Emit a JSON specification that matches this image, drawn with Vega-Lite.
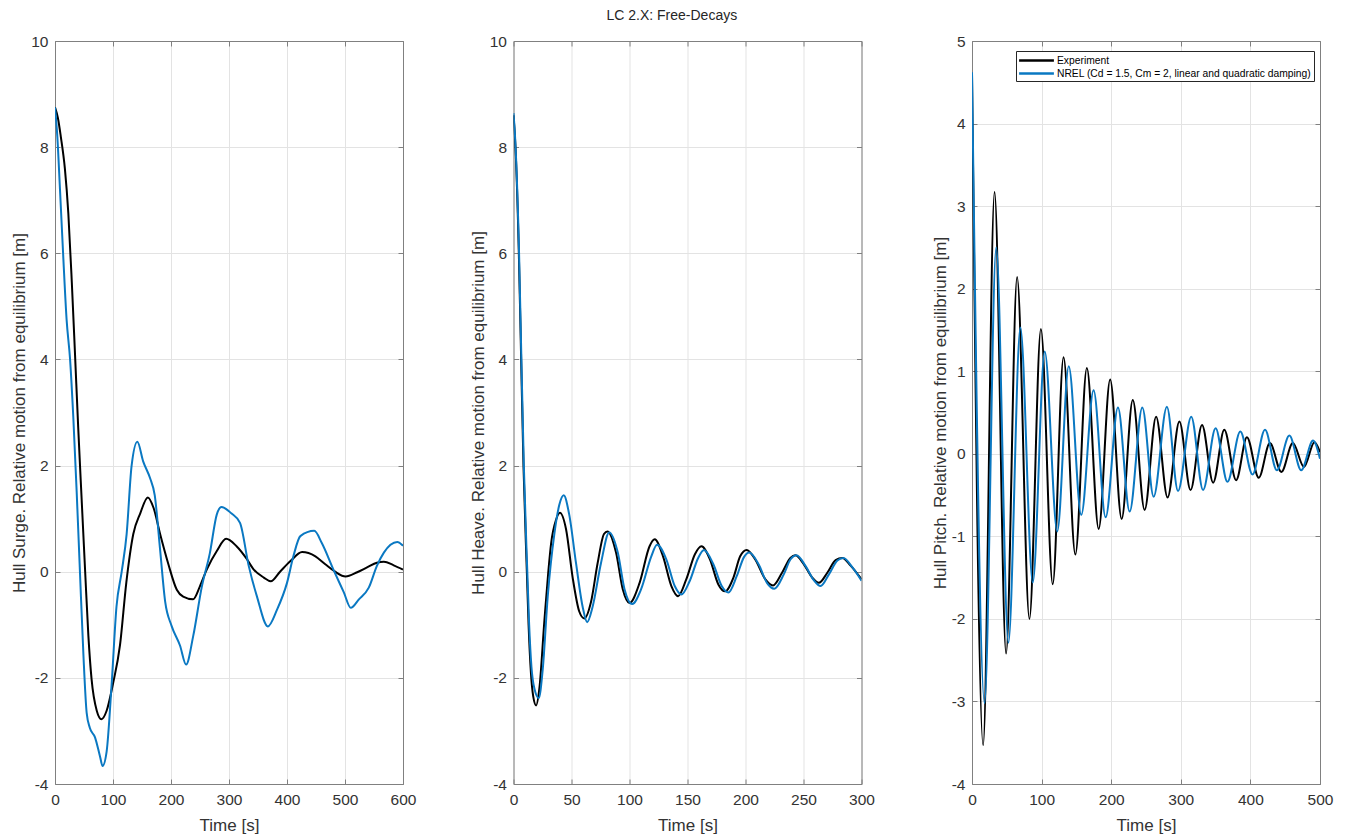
{
  "$schema": "https://vega.github.io/schema/vega-lite/v6.json",
  "background": "white",
  "padding": {"left": 10, "top": 9, "right": 31, "bottom": 20},
  "title": {"text": "LC 2.X: Free-Decays", "fontSize": 14, "font": "Liberation Sans", "fontWeight": "normal", "color": "#262626", "anchor": "middle", "offset": 11},
  "config": {
    "font": "Liberation Sans",
    "view": {"stroke": null},
    "axis": {
      "domainColor": "#808080", "domainWidth": 1, "tickColor": "#808080", "tickSize": -5, "tickWidth": 1,
      "labelColor": "#333333", "labelFontSize": 15.5, "labelFont": "Liberation Sans",
      "titleColor": "#333333", "titleFontSize": 17, "titleFontWeight": "normal", "titleFont": "Liberation Sans",
      "gridColor": "#e3e3e3", "gridWidth": 1, "labelFlush": false, "labelOverlap": false, "labelExpr": "'' + datum.value"
    },
    "axisX": {"titlePadding": 10, "labelPadding": 13},
    "axisY": {"titlePadding": 2, "labelPadding": 12}
  },
  "spacing": 110.5,
  "bounds": "flush",
  "resolve": {"scale": {"x": "independent", "y": "independent", "color": "independent"}},
  "datasets": {
    "surge": [
      {"s": "Experiment", "t": 0, "y": 8.75}, {"s": "Experiment", "t": 5, "y": 8.55}, {"s": "Experiment", "t": 10, "y": 8.2}, {"s": "Experiment", "t": 17, "y": 7.6}, {"s": "Experiment", "t": 23, "y": 6.75}, {"s": "Experiment", "t": 29, "y": 5.45}, {"s": "Experiment", "t": 34.5, "y": 4.1}, {"s": "Experiment", "t": 40, "y": 2.72}, {"s": "Experiment", "t": 46, "y": 1.35}, {"s": "Experiment", "t": 52, "y": 0.0}, {"s": "Experiment", "t": 57.5, "y": -1.2}, {"s": "Experiment", "t": 63, "y": -2.02}, {"s": "Experiment", "t": 72, "y": -2.62}, {"s": "Experiment", "t": 80, "y": -2.78}, {"s": "Experiment", "t": 89, "y": -2.62}, {"s": "Experiment", "t": 100, "y": -2.11}, {"s": "Experiment", "t": 112, "y": -1.39}, {"s": "Experiment", "t": 123, "y": -0.2}, {"s": "Experiment", "t": 135, "y": 0.71}, {"s": "Experiment", "t": 147, "y": 1.1}, {"s": "Experiment", "t": 160, "y": 1.4}, {"s": "Experiment", "t": 170, "y": 1.2}, {"s": "Experiment", "t": 181, "y": 0.72}, {"s": "Experiment", "t": 195, "y": 0.16}, {"s": "Experiment", "t": 210, "y": -0.34}, {"s": "Experiment", "t": 221, "y": -0.47}, {"s": "Experiment", "t": 238, "y": -0.52}, {"s": "Experiment", "t": 250, "y": -0.27}, {"s": "Experiment", "t": 262, "y": 0.05}, {"s": "Experiment", "t": 279, "y": 0.39}, {"s": "Experiment", "t": 295, "y": 0.62}, {"s": "Experiment", "t": 313, "y": 0.48}, {"s": "Experiment", "t": 330, "y": 0.25}, {"s": "Experiment", "t": 342, "y": 0.05}, {"s": "Experiment", "t": 360, "y": -0.11}, {"s": "Experiment", "t": 372, "y": -0.18}, {"s": "Experiment", "t": 388, "y": 0.0}, {"s": "Experiment", "t": 406, "y": 0.2}, {"s": "Experiment", "t": 426, "y": 0.37}, {"s": "Experiment", "t": 449, "y": 0.29}, {"s": "Experiment", "t": 466, "y": 0.14}, {"s": "Experiment", "t": 483, "y": 0.0}, {"s": "Experiment", "t": 501, "y": -0.09}, {"s": "Experiment", "t": 521, "y": -0.01}, {"s": "Experiment", "t": 538, "y": 0.08}, {"s": "Experiment", "t": 555, "y": 0.17}, {"s": "Experiment", "t": 567, "y": 0.19}, {"s": "Experiment", "t": 584, "y": 0.12}, {"s": "Experiment", "t": 600, "y": 0.04},
      {"s": "NREL", "t": 0, "y": 8.75}, {"s": "NREL", "t": 4, "y": 8.2}, {"s": "NREL", "t": 8.6, "y": 7.2}, {"s": "NREL", "t": 14.4, "y": 5.9}, {"s": "NREL", "t": 20, "y": 4.75}, {"s": "NREL", "t": 26, "y": 4.0}, {"s": "NREL", "t": 31.6, "y": 2.9}, {"s": "NREL", "t": 37.4, "y": 1.5}, {"s": "NREL", "t": 43, "y": 0.0}, {"s": "NREL", "t": 49, "y": -1.57}, {"s": "NREL", "t": 54.6, "y": -2.66}, {"s": "NREL", "t": 60, "y": -2.94}, {"s": "NREL", "t": 69, "y": -3.12}, {"s": "NREL", "t": 77.6, "y": -3.48}, {"s": "NREL", "t": 82, "y": -3.66}, {"s": "NREL", "t": 89, "y": -3.39}, {"s": "NREL", "t": 97.7, "y": -2.11}, {"s": "NREL", "t": 106, "y": -0.66}, {"s": "NREL", "t": 115, "y": 0.0}, {"s": "NREL", "t": 123.5, "y": 0.71}, {"s": "NREL", "t": 132, "y": 1.99}, {"s": "NREL", "t": 142, "y": 2.45}, {"s": "NREL", "t": 152, "y": 2.08}, {"s": "NREL", "t": 164, "y": 1.76}, {"s": "NREL", "t": 172, "y": 1.44}, {"s": "NREL", "t": 181, "y": 0.44}, {"s": "NREL", "t": 190, "y": -0.57}, {"s": "NREL", "t": 201, "y": -1.02}, {"s": "NREL", "t": 215.5, "y": -1.39}, {"s": "NREL", "t": 226, "y": -1.75}, {"s": "NREL", "t": 238.5, "y": -1.2}, {"s": "NREL", "t": 253, "y": -0.29}, {"s": "NREL", "t": 267, "y": 0.35}, {"s": "NREL", "t": 279, "y": 1.08}, {"s": "NREL", "t": 287, "y": 1.22}, {"s": "NREL", "t": 304, "y": 1.1}, {"s": "NREL", "t": 319, "y": 0.92}, {"s": "NREL", "t": 334, "y": 0.11}, {"s": "NREL", "t": 348, "y": -0.46}, {"s": "NREL", "t": 367, "y": -1.03}, {"s": "NREL", "t": 383, "y": -0.71}, {"s": "NREL", "t": 400, "y": -0.21}, {"s": "NREL", "t": 411, "y": 0.29}, {"s": "NREL", "t": 423, "y": 0.67}, {"s": "NREL", "t": 447, "y": 0.77}, {"s": "NREL", "t": 460, "y": 0.54}, {"s": "NREL", "t": 480, "y": 0.04}, {"s": "NREL", "t": 498, "y": -0.39}, {"s": "NREL", "t": 510, "y": -0.68}, {"s": "NREL", "t": 524, "y": -0.52}, {"s": "NREL", "t": 541, "y": -0.3}, {"s": "NREL", "t": 555, "y": 0.11}, {"s": "NREL", "t": 567, "y": 0.36}, {"s": "NREL", "t": 590, "y": 0.56}, {"s": "NREL", "t": 600, "y": 0.49}
    ],
    "heave": [
      {"s": "Experiment", "t": 0, "y": 8.6}, {"s": "Experiment", "t": 1.7, "y": 8.0}, {"s": "Experiment", "t": 4.6, "y": 6.0}, {"s": "Experiment", "t": 6.6, "y": 4.0}, {"s": "Experiment", "t": 8.6, "y": 2.0}, {"s": "Experiment", "t": 11.5, "y": 0.0}, {"s": "Experiment", "t": 13, "y": -1.0}, {"s": "Experiment", "t": 15, "y": -1.9}, {"s": "Experiment", "t": 17, "y": -2.35}, {"s": "Experiment", "t": 19.5, "y": -2.52}, {"s": "Experiment", "t": 22.3, "y": -2.2}, {"s": "Experiment", "t": 26.6, "y": -0.93}, {"s": "Experiment", "t": 30, "y": 0.0}, {"s": "Experiment", "t": 32.4, "y": 0.53}, {"s": "Experiment", "t": 36.7, "y": 0.98}, {"s": "Experiment", "t": 40, "y": 1.11}, {"s": "Experiment", "t": 45.3, "y": 0.8}, {"s": "Experiment", "t": 51, "y": -0.11}, {"s": "Experiment", "t": 56.7, "y": -0.75}, {"s": "Experiment", "t": 61, "y": -0.88}, {"s": "Experiment", "t": 66.8, "y": -0.57}, {"s": "Experiment", "t": 72.5, "y": 0.16}, {"s": "Experiment", "t": 78, "y": 0.71}, {"s": "Experiment", "t": 81, "y": 0.76}, {"s": "Experiment", "t": 88.4, "y": 0.36}, {"s": "Experiment", "t": 94.2, "y": -0.33}, {"s": "Experiment", "t": 100, "y": -0.59}, {"s": "Experiment", "t": 108.7, "y": -0.21}, {"s": "Experiment", "t": 117.3, "y": 0.48}, {"s": "Experiment", "t": 121.7, "y": 0.61}, {"s": "Experiment", "t": 128.9, "y": 0.29}, {"s": "Experiment", "t": 136.1, "y": -0.27}, {"s": "Experiment", "t": 141.9, "y": -0.46}, {"s": "Experiment", "t": 149, "y": -0.14}, {"s": "Experiment", "t": 156.4, "y": 0.33}, {"s": "Experiment", "t": 162, "y": 0.48}, {"s": "Experiment", "t": 169.4, "y": 0.23}, {"s": "Experiment", "t": 176.6, "y": -0.24}, {"s": "Experiment", "t": 182.4, "y": -0.37}, {"s": "Experiment", "t": 189.6, "y": -0.11}, {"s": "Experiment", "t": 195.4, "y": 0.29}, {"s": "Experiment", "t": 201, "y": 0.41}, {"s": "Experiment", "t": 208.4, "y": 0.23}, {"s": "Experiment", "t": 217, "y": -0.14}, {"s": "Experiment", "t": 223.7, "y": -0.26}, {"s": "Experiment", "t": 231.5, "y": -0.02}, {"s": "Experiment", "t": 238.7, "y": 0.26}, {"s": "Experiment", "t": 243, "y": 0.31}, {"s": "Experiment", "t": 250.3, "y": 0.14}, {"s": "Experiment", "t": 257.5, "y": -0.11}, {"s": "Experiment", "t": 263.3, "y": -0.21}, {"s": "Experiment", "t": 270.5, "y": -0.02}, {"s": "Experiment", "t": 277.7, "y": 0.22}, {"s": "Experiment", "t": 283.5, "y": 0.26}, {"s": "Experiment", "t": 290.8, "y": 0.11}, {"s": "Experiment", "t": 300, "y": -0.14},
      {"s": "NREL", "t": 0, "y": 8.64}, {"s": "NREL", "t": 1.7, "y": 8.05}, {"s": "NREL", "t": 4.8, "y": 6.0}, {"s": "NREL", "t": 6.8, "y": 4.0}, {"s": "NREL", "t": 8.9, "y": 2.0}, {"s": "NREL", "t": 11.9, "y": 0.0}, {"s": "NREL", "t": 13.5, "y": -1.0}, {"s": "NREL", "t": 15.5, "y": -1.8}, {"s": "NREL", "t": 18, "y": -2.2}, {"s": "NREL", "t": 21.8, "y": -2.38}, {"s": "NREL", "t": 25.2, "y": -1.84}, {"s": "NREL", "t": 29.5, "y": -0.47}, {"s": "NREL", "t": 35.2, "y": 0.71}, {"s": "NREL", "t": 39.5, "y": 1.26}, {"s": "NREL", "t": 43.3, "y": 1.44}, {"s": "NREL", "t": 48, "y": 1.08}, {"s": "NREL", "t": 53.9, "y": 0.16}, {"s": "NREL", "t": 59.6, "y": -0.66}, {"s": "NREL", "t": 63.5, "y": -0.95}, {"s": "NREL", "t": 68.2, "y": -0.66}, {"s": "NREL", "t": 75.4, "y": 0.16}, {"s": "NREL", "t": 82.5, "y": 0.74}, {"s": "NREL", "t": 89.9, "y": 0.36}, {"s": "NREL", "t": 95.7, "y": -0.33}, {"s": "NREL", "t": 102.3, "y": -0.61}, {"s": "NREL", "t": 110, "y": -0.33}, {"s": "NREL", "t": 118.8, "y": 0.29}, {"s": "NREL", "t": 123.7, "y": 0.51}, {"s": "NREL", "t": 131.8, "y": 0.23}, {"s": "NREL", "t": 139, "y": -0.27}, {"s": "NREL", "t": 144.8, "y": -0.43}, {"s": "NREL", "t": 152, "y": -0.17}, {"s": "NREL", "t": 159.2, "y": 0.26}, {"s": "NREL", "t": 164.2, "y": 0.41}, {"s": "NREL", "t": 172.3, "y": 0.14}, {"s": "NREL", "t": 179.5, "y": -0.27}, {"s": "NREL", "t": 185.3, "y": -0.39}, {"s": "NREL", "t": 192.5, "y": -0.08}, {"s": "NREL", "t": 198.8, "y": 0.28}, {"s": "NREL", "t": 203.2, "y": 0.36}, {"s": "NREL", "t": 211.3, "y": 0.14}, {"s": "NREL", "t": 218.5, "y": -0.21}, {"s": "NREL", "t": 224.9, "y": -0.32}, {"s": "NREL", "t": 233, "y": -0.05}, {"s": "NREL", "t": 238.7, "y": 0.23}, {"s": "NREL", "t": 244, "y": 0.31}, {"s": "NREL", "t": 251.7, "y": 0.11}, {"s": "NREL", "t": 258.9, "y": -0.16}, {"s": "NREL", "t": 264.7, "y": -0.27}, {"s": "NREL", "t": 271.9, "y": -0.05}, {"s": "NREL", "t": 279.2, "y": 0.21}, {"s": "NREL", "t": 284.4, "y": 0.26}, {"s": "NREL", "t": 292.2, "y": 0.08}, {"s": "NREL", "t": 300, "y": -0.17}
    ],
    "pitch": [
      {"s": "Experiment", "t": 0, "y": 4.6}, {"s": "Experiment", "t": 16, "y": -3.53}, {"s": "Experiment", "t": 32.4, "y": 3.17}, {"s": "Experiment", "t": 49, "y": -2.42}, {"s": "Experiment", "t": 64.8, "y": 2.14}, {"s": "Experiment", "t": 82.5, "y": -2.0}, {"s": "Experiment", "t": 99, "y": 1.51}, {"s": "Experiment", "t": 116, "y": -1.58}, {"s": "Experiment", "t": 131.5, "y": 1.17}, {"s": "Experiment", "t": 148.5, "y": -1.22}, {"s": "Experiment", "t": 165, "y": 1.04}, {"s": "Experiment", "t": 182, "y": -0.91}, {"s": "Experiment", "t": 198.5, "y": 0.9}, {"s": "Experiment", "t": 215, "y": -0.79}, {"s": "Experiment", "t": 231, "y": 0.65}, {"s": "Experiment", "t": 248, "y": -0.68}, {"s": "Experiment", "t": 264.5, "y": 0.45}, {"s": "Experiment", "t": 281, "y": -0.53}, {"s": "Experiment", "t": 298, "y": 0.39}, {"s": "Experiment", "t": 314, "y": -0.44}, {"s": "Experiment", "t": 330.5, "y": 0.35}, {"s": "Experiment", "t": 346.5, "y": -0.35}, {"s": "Experiment", "t": 362.5, "y": 0.29}, {"s": "Experiment", "t": 379.5, "y": -0.32}, {"s": "Experiment", "t": 395, "y": 0.2}, {"s": "Experiment", "t": 412, "y": -0.29}, {"s": "Experiment", "t": 428, "y": 0.13}, {"s": "Experiment", "t": 444.5, "y": -0.22}, {"s": "Experiment", "t": 461, "y": 0.13}, {"s": "Experiment", "t": 477, "y": -0.16}, {"s": "Experiment", "t": 492, "y": 0.14}, {"s": "Experiment", "t": 500, "y": 0.02},
      {"s": "NREL", "t": 0, "y": 4.62}, {"s": "NREL", "t": 18, "y": -3.02}, {"s": "NREL", "t": 34.8, "y": 2.5}, {"s": "NREL", "t": 52.3, "y": -2.29}, {"s": "NREL", "t": 69.5, "y": 1.53}, {"s": "NREL", "t": 87.3, "y": -1.56}, {"s": "NREL", "t": 104.5, "y": 1.24}, {"s": "NREL", "t": 122.5, "y": -0.94}, {"s": "NREL", "t": 139, "y": 1.06}, {"s": "NREL", "t": 157, "y": -0.74}, {"s": "NREL", "t": 174.7, "y": 0.77}, {"s": "NREL", "t": 192, "y": -0.77}, {"s": "NREL", "t": 209.7, "y": 0.56}, {"s": "NREL", "t": 226.5, "y": -0.7}, {"s": "NREL", "t": 244.7, "y": 0.56}, {"s": "NREL", "t": 261, "y": -0.52}, {"s": "NREL", "t": 280, "y": 0.57}, {"s": "NREL", "t": 296, "y": -0.45}, {"s": "NREL", "t": 315, "y": 0.45}, {"s": "NREL", "t": 332, "y": -0.44}, {"s": "NREL", "t": 350, "y": 0.31}, {"s": "NREL", "t": 367, "y": -0.34}, {"s": "NREL", "t": 385.5, "y": 0.27}, {"s": "NREL", "t": 403, "y": -0.25}, {"s": "NREL", "t": 421, "y": 0.29}, {"s": "NREL", "t": 438, "y": -0.2}, {"s": "NREL", "t": 456, "y": 0.22}, {"s": "NREL", "t": 473, "y": -0.2}, {"s": "NREL", "t": 490, "y": 0.16}, {"s": "NREL", "t": 500, "y": -0.06}
    ]
  },
  "hconcat": [
    {
      "width": 348, "height": 743,
      "data": {"name": "surge"},
      "layer": [
        {
          "mark": {"type": "line", "interpolate": "monotone", "strokeWidth": 2, "clip": true},
          "encoding": {
            "x": {"field": "t", "type": "quantitative", "scale": {"domain": [0, 600], "nice": false, "zero": false}, "axis": {"title": "Time [s]", "orient": "bottom", "values": [0, 100, 200, 300, 400, 500, 600], "grid": true}},
            "y": {"field": "y", "type": "quantitative", "scale": {"domain": [-4, 10], "nice": false, "zero": false}, "axis": {"title": "Hull Surge. Relative motion from equilibrium [m]", "orient": "left", "values": [-4, -2, 0, 2, 4, 6, 8, 10], "grid": true}},
            "color": {"field": "s", "type": "nominal", "scale": {"domain": ["Experiment", "NREL"], "range": ["#000000", "#0a78c2"]}, "legend": null}
          }
        },
        {
          "mark": {"type": "line", "opacity": 0},
          "encoding": {
            "x": {"field": "t", "type": "quantitative", "axis": {"orient": "top", "labels": false, "title": null, "grid": false, "values": [0, 100, 200, 300, 400, 500, 600]}},
            "y": {"field": "y", "type": "quantitative", "axis": {"orient": "right", "labels": false, "title": null, "grid": false, "values": [-4, -2, 0, 2, 4, 6, 8, 10]}}
          }
        }
      ],
      "resolve": {"axis": {"x": "independent", "y": "independent"}}
    },
    {
      "width": 348, "height": 743,
      "data": {"name": "heave"},
      "layer": [
        {
          "mark": {"type": "line", "interpolate": "monotone", "strokeWidth": 2, "clip": true},
          "encoding": {
            "x": {"field": "t", "type": "quantitative", "scale": {"domain": [0, 300], "nice": false, "zero": false}, "axis": {"title": "Time [s]", "orient": "bottom", "values": [0, 50, 100, 150, 200, 250, 300], "grid": true}},
            "y": {"field": "y", "type": "quantitative", "scale": {"domain": [-4, 10], "nice": false, "zero": false}, "axis": {"title": "Hull Heave. Relative motion from equilibrium [m]", "orient": "left", "values": [-4, -2, 0, 2, 4, 6, 8, 10], "grid": true}},
            "color": {"field": "s", "type": "nominal", "scale": {"domain": ["Experiment", "NREL"], "range": ["#000000", "#0a78c2"]}, "legend": null}
          }
        },
        {
          "mark": {"type": "line", "opacity": 0},
          "encoding": {
            "x": {"field": "t", "type": "quantitative", "axis": {"orient": "top", "labels": false, "title": null, "grid": false, "values": [0, 50, 100, 150, 200, 250, 300]}},
            "y": {"field": "y", "type": "quantitative", "axis": {"orient": "right", "labels": false, "title": null, "grid": false, "values": [-4, -2, 0, 2, 4, 6, 8, 10]}}
          }
        }
      ],
      "resolve": {"axis": {"x": "independent", "y": "independent"}}
    },
    {
      "width": 348, "height": 743,
      "data": {"name": "pitch"},
      "layer": [
        {
          "mark": {"type": "line", "interpolate": "monotone", "strokeWidth": 2, "clip": true},
          "encoding": {
            "x": {"field": "t", "type": "quantitative", "scale": {"domain": [0, 500], "nice": false, "zero": false}, "axis": {"title": "Time [s]", "orient": "bottom", "values": [0, 100, 200, 300, 400, 500], "grid": true}},
            "y": {"field": "y", "type": "quantitative", "scale": {"domain": [-4, 5], "nice": false, "zero": false}, "axis": {"title": "Hull Pitch. Relative motion from equilibrium [m]", "orient": "left", "values": [-4, -3, -2, -1, 0, 1, 2, 3, 4, 5], "grid": true}},
            "color": {"field": "s", "type": "nominal", "scale": {"domain": ["Experiment", "NREL"], "range": ["#000000", "#0a78c2"]},
              "legend": {"orient": "none", "legendX": 44, "legendY": 10, "title": null, "symbolType": "M-2.9,0H2.9", "symbolSize": 144, "symbolStrokeWidth": 2.5, "labelFontSize": 10.3, "labelColor": "#000000", "labelFont": "Liberation Sans", "strokeColor": "#262626", "fillColor": "white", "padding": 2, "rowPadding": 0, "symbolOffset": 11, "labelOffset": 13, "labelLimit": 400,
                "labelExpr": "datum.label == 'NREL' ? 'NREL (Cd = 1.5, Cm = 2, linear and quadratic damping)' : datum.label"}}
          }
        },
        {
          "mark": {"type": "line", "opacity": 0},
          "encoding": {
            "x": {"field": "t", "type": "quantitative", "axis": {"orient": "top", "labels": false, "title": null, "grid": false, "values": [0, 100, 200, 300, 400, 500]}},
            "y": {"field": "y", "type": "quantitative", "axis": {"orient": "right", "labels": false, "title": null, "grid": false, "values": [-4, -3, -2, -1, 0, 1, 2, 3, 4, 5]}}
          }
        }
      ],
      "resolve": {"axis": {"x": "independent", "y": "independent"}}
    }
  ]
}
